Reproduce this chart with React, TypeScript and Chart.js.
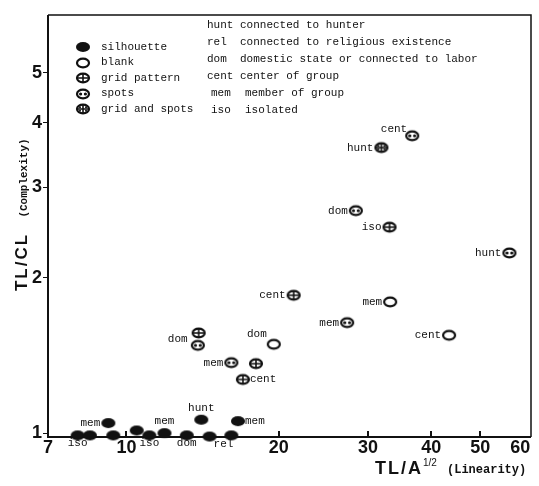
import React, { useEffect, useRef } from "react";
import { Chart, registerables } from "chart.js";

Chart.register(...registerables);

// ---------- data ----------
const seriesNames = ["silhouette", "blank", "grid pattern", "spots", "grid and spots"];

const silhouetteX = [8.01, 8.47, 9.21, 9.42, 10.48, 11.1, 11.89, 13.16, 14.06, 14.6, 16.12, 16.61];
const silhouetteY = [0.99, 0.99, 1.046, 0.99, 1.012, 0.99, 1.0, 0.99, 1.062, 0.985, 0.99, 1.055];
const silhouetteLabels = ["iso", "", "mem", "", "", "iso", "mem", "dom", "hunt", "rel", "", "mem"];

const blankX = [19.55, 33.2, 43.4];
const blankY = [1.487, 1.797, 1.548];
const blankLabels = ["dom", "mem", "cent"];

const gridX = [13.89, 18.03, 16.99, 21.4, 33.1];
const gridY = [1.564, 1.364, 1.271, 1.851, 2.509];
const gridLabels = ["dom", "", "cent", "cent", "iso"];

const spotsX = [13.84, 16.12, 27.3, 28.4, 57.1, 36.7];
const spotsY = [1.48, 1.37, 1.638, 2.701, 2.236, 3.773];
const spotsLabels = ["", "mem", "mem", "dom", "hunt", "cent"];

const gridSpotsX = [31.9];
const gridSpotsY = [3.579];
const gridSpotsLabels = ["hunt"];

const xTickValues = [7, 10, 20, 30, 40, 50, 60];
const xMarkedTicks = [10, 20, 30, 40, 50];
const yTickValues = [1, 2, 3, 4, 5];

const abbrKeys = ["hunt", "rel", "dom", "cent", "mem", "iso"];
const abbrDescs = [
  "connected to hunter",
  "connected to religious existence",
  "domestic state or connected to labor",
  "center of group",
  "member of group",
  "isolated",
];

// ---------- label placement (styling, relative to each point) ----------
const silhouettePlaces = ["B", "", "L", "", "", "B", "A", "B", "A", "BR", "", "R"];
const blankPlaces = ["UL", "L", "L"];
const gridPlaces = ["LD", "", "R", "L", "L"];
const spotsPlaces = ["", "L", "L", "L", "L", "LU"];
const gridSpotsPlaces = ["L"];

const placeOffsets: Record<string, [number, number, CanvasTextAlign]> = {
  L: [-8, 0, "right"],
  R: [7, 0, "left"],
  A: [0, -12, "center"],
  B: [0, 8, "center"],
  BR: [4, 8, "left"],
  LD: [-11, 6, "right"],
  LU: [-5, -7, "right"],
  UL: [-7, -10, "right"],
};

const INK = "#111";
const MONO = "'Liberation Mono', 'DejaVu Sans Mono', monospace";
const SANS = "'Liberation Sans', Arial, sans-serif";

function makeMarker(kind: string): HTMLCanvasElement {
  const c = document.createElement("canvas");
  c.width = 18;
  c.height = 14;
  const ctx = c.getContext("2d")!;
  const cx = 9;
  const cy = 7;
  ctx.strokeStyle = INK;
  ctx.fillStyle = INK;
  if (kind === "silhouette") {
    ctx.beginPath();
    ctx.ellipse(cx, cy, 7, 5, 0, 0, Math.PI * 2);
    ctx.fill();
    return c;
  }
  ctx.lineWidth = 2.2;
  ctx.beginPath();
  ctx.ellipse(cx, cy, 6, 4.3, 0, 0, Math.PI * 2);
  ctx.fillStyle = "#fff";
  ctx.fill();
  ctx.stroke();
  ctx.fillStyle = INK;
  if (kind === "grid" || kind === "gridSpots") {
    ctx.lineWidth = 1.6;
    ctx.beginPath();
    ctx.moveTo(cx - 6, cy);
    ctx.lineTo(cx + 6, cy);
    ctx.moveTo(cx, cy - 4.3);
    ctx.lineTo(cx, cy + 4.3);
    ctx.stroke();
  }
  if (kind === "spots") {
    ctx.beginPath();
    ctx.arc(cx - 2.4, cy, 1.6, 0, Math.PI * 2);
    ctx.arc(cx + 2.4, cy, 1.6, 0, Math.PI * 2);
    ctx.fill();
  }
  if (kind === "gridSpots") {
    [[-3, -1.8], [3, -1.8], [-3, 1.8], [3, 1.8]].forEach(([dx, dy]) => {
      ctx.beginPath();
      ctx.arc(cx + dx, cy + dy, 1, 0, Math.PI * 2);
      ctx.fill();
    });
  }
  return c;
}

export default function App() {
  const canvasRef = useRef<HTMLCanvasElement | null>(null);

  useEffect(() => {
    if (!canvasRef.current) return;
    const kinds = ["silhouette", "blank", "grid", "spots", "gridSpots"];
    const markers = kinds.map(makeMarker);
    const series = [
      { xs: silhouetteX, ys: silhouetteY, labels: silhouetteLabels, places: silhouettePlaces },
      { xs: blankX, ys: blankY, labels: blankLabels, places: blankPlaces },
      { xs: gridX, ys: gridY, labels: gridLabels, places: gridPlaces },
      { xs: spotsX, ys: spotsY, labels: spotsLabels, places: spotsPlaces },
      { xs: gridSpotsX, ys: gridSpotsY, labels: gridSpotsLabels, places: gridSpotsPlaces },
    ];

    const annotations = {
      id: "annotations",
      beforeDatasetsDraw(chart: any) {
        const ctx = chart.ctx;
        const a = chart.chartArea;
        ctx.save();
        ctx.strokeStyle = INK;
        ctx.lineWidth = 1.5;
        ctx.beginPath();
        ctx.moveTo(a.left, a.top);
        ctx.lineTo(a.right, a.top);
        ctx.lineTo(a.right, a.bottom);
        ctx.stroke();
        ctx.lineWidth = 2;
        ctx.beginPath();
        ctx.moveTo(a.left, a.top);
        ctx.lineTo(a.left, a.bottom);
        ctx.lineTo(a.right, a.bottom);
        ctx.stroke();
        const xs = chart.scales.x;
        ctx.lineWidth = 2;
        xMarkedTicks.forEach((v) => {
          const px = Math.round(xs.getPixelForValue(v));
          ctx.beginPath();
          ctx.moveTo(px, a.bottom);
          ctx.lineTo(px, a.bottom - 6);
          ctx.stroke();
        });
        ctx.restore();
      },
      afterDatasetsDraw(chart: any) {
        const ctx = chart.ctx;
        ctx.save();
        ctx.fillStyle = INK;
        ctx.textBaseline = "middle";
        // point labels
        ctx.font = `11px ${MONO}`;
        series.forEach((s, di) => {
          const meta = chart.getDatasetMeta(di);
          s.labels.forEach((lab, i) => {
            if (!lab) return;
            const el = meta.data[i];
            const off = placeOffsets[s.places[i]] || placeOffsets.L;
            ctx.textAlign = off[2];
            ctx.fillText(lab, el.x + off[0], el.y + off[1]);
          });
        });
        // legend of marker types
        ctx.textAlign = "left";
        seriesNames.forEach((name, i) => {
          const y = 47 + i * 15.5;
          ctx.drawImage(markers[i], 83 - 9, Math.round(y) - 7);
          ctx.fillText(name, 101, y);
        });
        // abbreviations
        abbrKeys.forEach((k, i) => {
          const y = 25 + i * 17;
          ctx.fillText(k, i >= 4 ? 211 : 207, y);
          ctx.fillText(abbrDescs[i], i >= 4 ? 245 : 240, y);
        });
        // x-axis title
        ctx.font = `bold 18px ${SANS}`;
        (ctx as any).letterSpacing = "2px";
        ctx.fillText("TL/A", 375, 469);
        const w = ctx.measureText("TL/A").width;
        (ctx as any).letterSpacing = "0px";
        ctx.font = `10px ${SANS}`;
        ctx.fillText("1/2", 375 + w, 463);
        ctx.font = `bold 12px ${MONO}`;
        ctx.fillText("(Linearity)", 447, 470);
        // y-axis title
        ctx.save();
        ctx.translate(27, 262);
        ctx.rotate(-Math.PI / 2);
        ctx.textAlign = "center";
        ctx.textBaseline = "alphabetic";
        ctx.font = `bold 17px ${SANS}`;
        (ctx as any).letterSpacing = "2px";
        ctx.fillText("TL/CL", 0, 0);
        ctx.restore();
        ctx.save();
        ctx.translate(27, 178);
        ctx.rotate(-Math.PI / 2);
        ctx.textAlign = "center";
        ctx.textBaseline = "alphabetic";
        ctx.font = `bold 11px ${MONO}`;
        ctx.fillText("(Complexity)", 0, 0);
        ctx.restore();
        ctx.restore();
      },
    };

    const chart = new Chart(canvasRef.current, {
      type: "scatter",
      data: {
        datasets: series.map((s, i) => ({
          label: seriesNames[i],
          data: s.xs.map((x, j) => ({ x, y: s.ys[j] })),
          pointStyle: markers[i] as any,
          pointRadius: 7,
          clip: false as any,
        })),
      },
      options: {
        animation: false,
        responsive: true,
        maintainAspectRatio: false,
        devicePixelRatio: 1,
        layout: { padding: { top: 15, right: 7, left: 0, bottom: 0 } },
        plugins: { legend: { display: false }, tooltip: { enabled: false } },
        scales: {
          x: {
            type: "logarithmic",
            min: 7,
            max: 63,
            afterBuildTicks: (s: any) => {
              s.ticks = xTickValues.map((v) => ({ value: v }));
            },
            afterFit: (s: any) => {
              s.height = 49;
            },
            grid: { display: false, drawTicks: false },
            border: { display: false },
            ticks: {
              autoSkip: false,
              maxRotation: 0,
              padding: 0,
              color: INK,
              font: { family: SANS, size: 18, weight: "bold" },
              callback: (v: any) => String(v),
            },
          },
          y: {
            type: "logarithmic",
            min: 0.983,
            max: 6.47,
            afterBuildTicks: (s: any) => {
              s.ticks = yTickValues.map((v) => ({ value: v }));
            },
            afterFit: (s: any) => {
              s.width = 48;
            },
            grid: { drawOnChartArea: false, drawTicks: true, tickLength: 5, color: INK, lineWidth: 1 },
            border: { display: false },
            ticks: {
              autoSkip: false,
              padding: 1,
              color: INK,
              font: { family: SANS, size: 18, weight: "bold" },
              callback: (v: any) => String(v),
            },
          },
        },
      } as any,
      plugins: [annotations],
    });
    return () => chart.destroy();
  }, []);

  return (
    <div style={{ position: "fixed", left: 0, top: 0, width: 539, height: 486, background: "#fff" }}>
      <canvas ref={canvasRef} />
    </div>
  );
}
